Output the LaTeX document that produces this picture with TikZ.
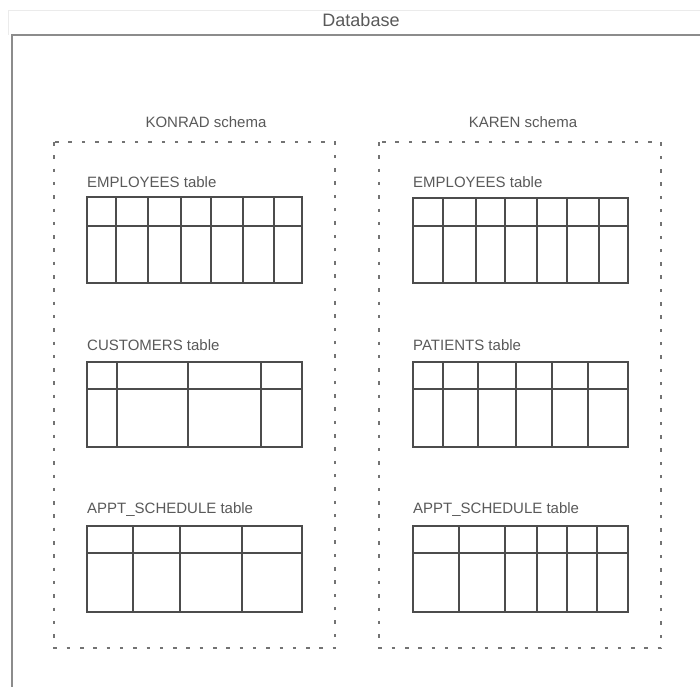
\documentclass[tikz,border=0pt]{standalone}
\usepackage{fontspec}
\setmainfont{Liberation Sans}
\begin{document}
\begin{tikzpicture}[x=1pt,y=-1pt,
  frameline/.style={draw=black!45,line width=2pt},
  headline/.style={draw=black!8,line width=1pt},
  schemabox/.style={draw=black!55,line width=1.1pt,dash pattern=on 3.5pt off 9.8pt},
  gridline/.style={draw=black!70,line width=1.1pt},
  label/.style={text=black!65,inner sep=0pt,font=\fontsize{15}{15}\selectfont},
  title/.style={text=black!65,inner sep=0pt,font=\fontsize{18}{18}\selectfont}]
\useasboundingbox (0,0) rectangle (700,686);
\begin{scope}
\clip (0,0) rectangle (700,686);
% database header strip and outer frame
\draw[headline] (8,10) -- (720,10);
\draw[headline] (8,10) -- (8,35);
\draw[frameline] (720,35) -- (12,35) -- (12,700);
\end{scope}
\node[title] (db) at (361,20) {Database};

% schema outlines
\node[label] (konrad) at (206,122) {KONRAD schema};
\node[label] (karen) at (523,122) {KAREN schema};
\draw[schemabox] (54,142) rectangle (335,648);
\draw[schemabox] (379,142) rectangle (661,648);

% table: name, left, right, top, header line, bottom, column lines
\newcommand\dbtable[7]{%
  \draw[gridline] (#2,#4) rectangle (#3,#6);
  \draw[gridline] (#2,#5) -- (#3,#5);
  \foreach \cx in {#7} {\draw[gridline] (\cx,#4) -- (\cx,#6);}
  \coordinate (#1) at (#2,#4);}

% KONRAD schema
\node[label,anchor=west] (kemp) at (87,182) {EMPLOYEES table};
\dbtable{kempT}{87}{302}{197}{226}{283}{116,148,181,211,243,274}
\node[label,anchor=west] (kcust) at (87,345) {CUSTOMERS table};
\dbtable{kcustT}{87}{302}{362}{389}{447}{117,188,261}
\node[label,anchor=west] (kappt) at (87,510) {APPT\_SCHEDULE table};
\dbtable{kapptT}{87}{302}{526}{553}{612}{133,180,242}

% KAREN schema
\node[label,anchor=west] (aemp) at (413,182) {EMPLOYEES table};
\dbtable{aempT}{413}{628}{198}{226}{283}{443,476,505,537,567,599}
\node[label,anchor=west] (apat) at (413,345) {PATIENTS table};
\dbtable{apatT}{413}{628}{362}{389}{447}{443,478,516,552,588}
\node[label,anchor=west] (aappt) at (413,510) {APPT\_SCHEDULE table};
\dbtable{aapptT}{413}{628}{526}{553}{612}{459,505,537,567,597}
\end{tikzpicture}
\end{document}
